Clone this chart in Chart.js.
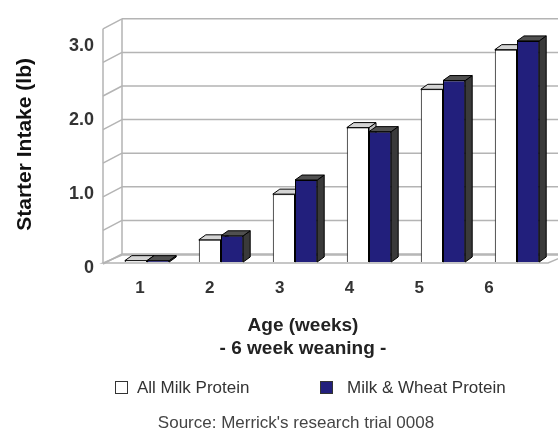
<!DOCTYPE html>
<html>
<head>
<meta charset="utf-8">
<script src="https://cdn.jsdelivr.net/npm/chart.js@4"></script>
<style>
  body { margin: 0; background: #fff; }
  #wrap { position: relative; width: 558px; height: 430px; overflow: hidden; font-family: "Liberation Sans", Arial, sans-serif; }
  #chart { position: absolute; left: 0; top: 0; }
  .xtitle { position: absolute; left: 203px; width: 200px; text-align: center; font-weight: bold; font-size: 19px; color: #222; line-height: 22px; }
  .legend { position: absolute; top: 378px; font-size: 17px; color: #333; line-height: 20px; white-space: nowrap; }
  .legend i { position: absolute; top: 3px; width: 11px; height: 11px; border: 1.5px solid #333; }
  .source { position: absolute; left: 96px; width: 400px; top: 413px; text-align: center; font-size: 17px; color: #444; line-height: 20px; }
</style>
</head>
<body>
<div id="wrap">
  <canvas id="chart" width="558" height="430"></canvas>
  <div class="xtitle" style="top:314px">Age (weeks)</div>
  <div class="xtitle" style="top:337px">- 6 week weaning -</div>
  <div id="legend"></div>
  <div class="source">Source: Merrick's research trial 0008</div>
</div>
<script>
// weeks of age
const weeks = ["1", "2", "3", "4", "5", "6"];
// starter intake, lb
const allMilk = [0.02, 0.33, 1.01, 2.0, 2.57, 3.16];
const milkWheat = [0.02, 0.39, 1.22, 1.94, 2.70, 3.29];
const seriesNames = ["All Milk Protein", "Milk & Wheat Protein"];
const yTickValues = [0, 1, 2, 3];
const yTickLabels = ["0", "1.0", "2.0", "3.0"];

const fills = ["#ffffff", "#221f7c"];
const tops = ["#d4d4d4", "#505050"];
const sides = ["#bdbdbd", "#3a3a3a"];

// wall depth and bar depth of the fake 3d look
const wall = { dx: 19, dy: -8 };
const bar = { dx: 7, dy: -5 };

const poly = (ctx, pts, fill, stroke) => {
  ctx.beginPath();
  ctx.moveTo(pts[0][0], pts[0][1]);
  pts.slice(1).forEach((p) => ctx.lineTo(p[0], p[1]));
  ctx.closePath();
  if (fill) { ctx.fillStyle = fill; ctx.fill(); }
  if (stroke) { ctx.strokeStyle = stroke; ctx.stroke(); }
};

const threeD = {
  id: "threeD",
  beforeDatasetsDraw(chart) {
    const { ctx, chartArea: a, scales: { y } } = chart;
    const fl = a.left - 7;
    const bl = fl + wall.dx;
    const zero = y.getPixelForValue(0);
    const top = y.getPixelForValue(y.max);
    ctx.save();
    ctx.lineWidth = 1.5;
    ctx.strokeStyle = "#b4b4b4";
    // floor
    poly(ctx, [[fl, zero + 1], [a.right - 6, zero + 1], [a.right - 6 + wall.dx, zero + 1 + wall.dy], [bl, zero + 1 + wall.dy]], "#fff", "#b4b4b4");
    // back wall grid and left wall diagonals
    y.ticks.forEach((t) => {
      const py = y.getPixelForValue(t.value);
      ctx.beginPath();
      ctx.moveTo(bl, py + wall.dy);
      ctx.lineTo(chart.width, py + wall.dy);
      ctx.moveTo(fl, py + 2);
      ctx.lineTo(bl, py + wall.dy);
      ctx.stroke();
    });
    ctx.beginPath();
    ctx.moveTo(fl, top + 2);
    ctx.lineTo(fl, zero + 1);
    ctx.moveTo(bl, top + wall.dy);
    ctx.lineTo(bl, zero + wall.dy);
    ctx.stroke();

    // bar tops and sides
    ctx.lineWidth = 1;
    chart.data.datasets.forEach((ds, i) => {
      chart.getDatasetMeta(i).data.forEach((el) => {
        const x0 = el.x - el.width / 2, x1 = el.x + el.width / 2;
        const yt = el.y, yb = el.base;
        poly(ctx, [[x1, yt], [x1 + bar.dx, yt + bar.dy], [x1 + bar.dx, yb + bar.dy], [x1, yb]], sides[i], "#000");
        poly(ctx, [[x0, yt], [x1, yt], [x1 + bar.dx, yt + bar.dy], [x0 + bar.dx, yt + bar.dy]], tops[i], "#000");
      });
    });
    ctx.restore();
  }
};

const chart = new Chart(document.getElementById("chart"), {
  type: "bar",
  data: {
    labels: weeks,
    datasets: [
      { label: seriesNames[0], data: allMilk, backgroundColor: fills[0], borderColor: "#000", borderWidth: 1 },
      { label: seriesNames[1], data: milkWheat, backgroundColor: fills[1], borderColor: "#000", borderWidth: 1 }
    ]
  },
  options: {
    responsive: false,
    animation: false,
    barPercentage: 1,
    categoryPercentage: 0.6,
    layout: { padding: { left: 0, right: 4, top: 20.5, bottom: 0 } },
    plugins: { legend: { display: false }, tooltip: { enabled: false } },
    scales: {
      x: { display: false },
      y: { display: false, min: 0, max: 3.5, ticks: { stepSize: 0.5 } },
      // label axes, placed the way the source picture has them
      xl: {
        type: "linear", position: "bottom", min: 0.57, max: 6.93, offset: false,
        afterFit: (s) => { s.height = 168; },
        afterBuildTicks: (s) => { s.ticks = weeks.map((w, i) => ({ value: i + 1 })); },
        grid: { display: false, drawTicks: false, offset: false },
        border: { display: false },
        ticks: {
          autoSkip: false, padding: 16, color: "#333",
          font: { family: "Liberation Sans", size: 17, weight: "bold" },
          callback: (v) => weeks[v - 1]
        }
      },
      yl: {
        type: "linear", position: "left", min: 0.079, max: 3.257,
        afterFit: (s) => { s.width = 110; },
        afterBuildTicks: (s) => { s.ticks = yTickValues.map((v) => ({ value: v })); },
        grid: { display: false, drawTicks: false },
        border: { display: false },
        ticks: {
          autoSkip: false, padding: 16, color: "#333",
          font: { family: "Liberation Sans", size: 18, weight: "bold" },
          callback: (v) => yTickLabels[yTickValues.indexOf(v)]
        },
        title: {
          display: true, text: "Starter Intake (lb)", color: "#111",
          padding: { top: 13 },
          font: { family: "Liberation Sans", size: 21, weight: "bold" }
        }
      }
    }
  },
  plugins: [threeD]
});

// legend from the dataset names and fills
const legendPos = [{ box: 115, text: 137 }, { box: 320, text: 347 }];
document.getElementById("legend").innerHTML = seriesNames.map((n, i) =>
  `<div class="legend" style="left:${legendPos[i].box}px"><i style="left:0;background:${fills[i]}"></i>` +
  `<span style="position:absolute;left:${legendPos[i].text - legendPos[i].box}px">${n.replace("&", "&amp;")}</span></div>`
).join("");
</script>
</body>
</html>
